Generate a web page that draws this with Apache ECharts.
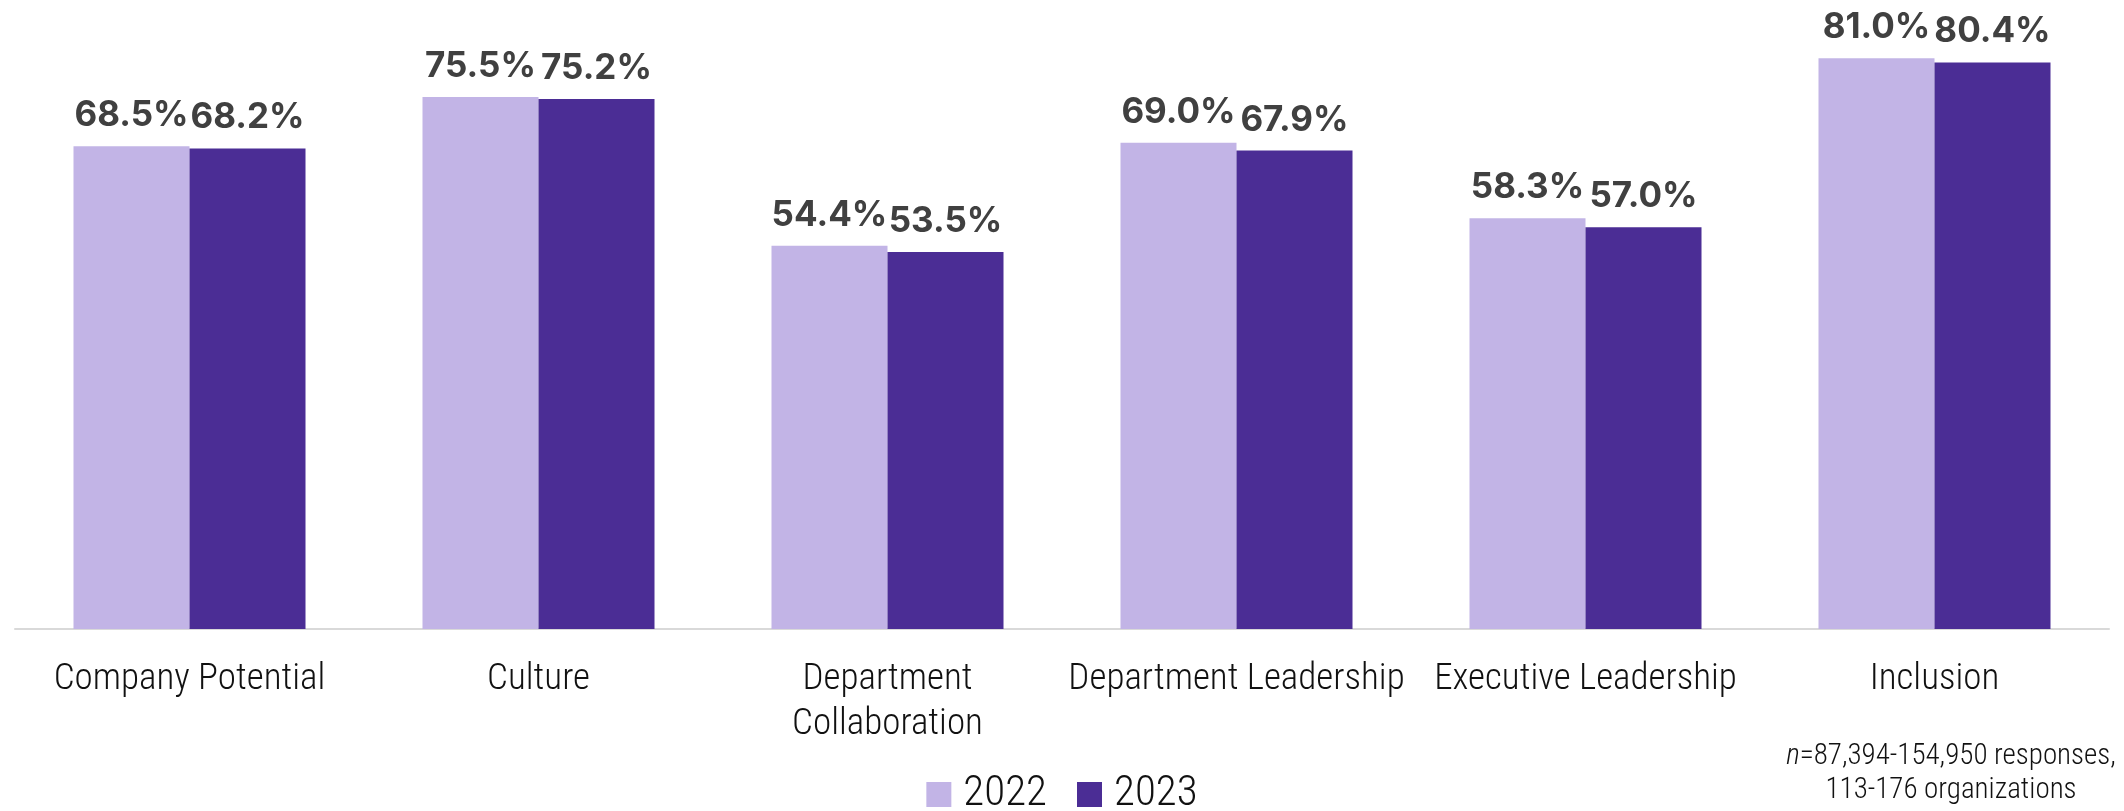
<!DOCTYPE html>
<html>
<head>
<meta charset="utf-8">
<script src="https://cdn.jsdelivr.net/npm/echarts@6/dist/echarts.min.js"></script>
<style>
html,body{margin:0;padding:0;background:#fff;}
#main{width:2124px;height:811px;}
</style>
</head>
<body>
<div id="main"></div>
<script>
const categories = ['Company Potential', 'Culture', 'Department\nCollaboration', 'Department Leadership', 'Executive Leadership', 'Inclusion'];
const seriesNames = ['2022', '2023'];
const values2022 = [68.5, 75.5, 54.4, 69.0, 58.3, 81.0];
const values2023 = [68.2, 75.2, 53.5, 67.9, 57.0, 80.4];
const noteItalic = 'n';
const noteLine1 = '=87,394-154,950 responses,';
const noteLine2 = '113-176 organizations';

const colors = ['#C2B4E6', '#4B2D95'];
const condFont = "'Roboto Condensed', 'Liberation Sans Narrow', 'DejaVu Sans Condensed', Roboto, sans-serif";
const labelFont = "Inter, 'Noto Sans', sans-serif";

const chart = echarts.init(document.getElementById('main'), null, {renderer: 'canvas'});

function makeSeries(name, data, color) {
  return {
    name: name,
    type: 'bar',
    data: data,
    barWidth: 116,
    barGap: '0%',
    itemStyle: {color: color},
    label: {
      show: true,
      position: 'top',
      distance: 13,
      color: '#404040',
      fontFamily: labelFont,
      fontWeight: 650,
      fontSize: 35,
      formatter: p => p.value.toFixed(1) + '%'
    }
  };
}

chart.setOption({
  animation: false,
  color: colors,
  grid: {left: 15, right: 15, top: 30, bottom: 182, containLabel: false},
  xAxis: {
    type: 'category',
    data: categories,
    axisLine: {show: true, lineStyle: {color: '#D9D9D9', width: 2}},
    axisTick: {show: false},
    axisLabel: {
      interval: 0,
      color: '#111',
      fontFamily: condFont,
      fontWeight: 300,
      fontSize: 37,
      lineHeight: 45,
      margin: 28
    }
  },
  yAxis: {
    type: 'value',
    min: 0,
    max: 85,
    show: false,
    splitLine: {show: false}
  },
  legend: {
    data: seriesNames,
    left: 'center',
    top: 768,
    itemWidth: 25,
    itemHeight: 25,
    itemGap: 30,
    icon: 'rect',
    textStyle: {
      color: '#111',
      fontFamily: condFont,
      fontWeight: 300,
      fontSize: 43,
      padding: [0, 0, 0, 7]
    }
  },
  series: [
    makeSeries(seriesNames[0], values2022, colors[0]),
    makeSeries(seriesNames[1], values2023, colors[1])
  ],
  graphic: [
    {
      type: 'text',
      x: 1951,
      y: 740,
      style: {
        text: '{i|' + noteItalic + '}{r|' + noteLine1 + '}\n{r|' + noteLine2 + '}',
        align: 'center',
        verticalAlign: 'top',
        fill: '#111',
        rich: {
          i: {fontFamily: condFont, fontWeight: 300, fontStyle: 'italic', fontSize: 29, lineHeight: 34, fill: '#111'},
          r: {fontFamily: condFont, fontWeight: 300, fontSize: 29, lineHeight: 34, fill: '#111'}
        }
      }
    }
  ]
});
</script>
</body>
</html>
